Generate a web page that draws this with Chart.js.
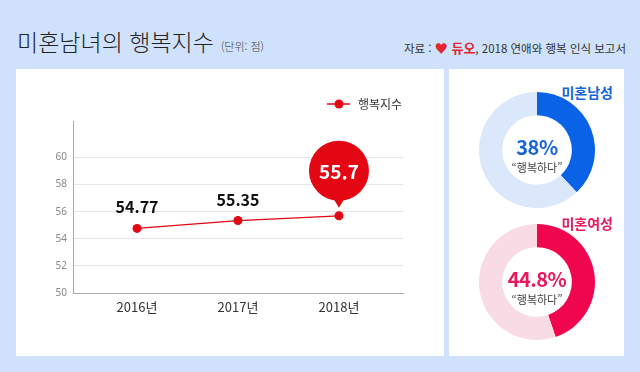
<!DOCTYPE html>
<html lang="ko">
<head>
  <meta charset="UTF-8">
  <title>미혼남녀의 행복지수</title>
  <script src="https://cdn.jsdelivr.net/npm/chart.js"></script>
  <style>
    body {
      margin: 0;
      width: 640px;
      height: 372px;
      background: #cfe1fb;
      font-family: "Noto Sans CJK KR", "Noto Sans", sans-serif;
      position: relative;
      overflow: hidden;
    }

    .title {
      position: absolute;
      left: 17px;
      top: 24px;
      font-size: 23px;
      font-weight: 300;
      color: #222;
      white-space: nowrap;
    }

    .title small {
      font-size: 11px;
      color: #444;
      margin-left: 7px;
    }

    .source {
      position: absolute;
      right: 14px;
      top: 38px;
      font-size: 11.5px;
      color: #333;
      white-space: nowrap;
    }

    .source b {
      color: #e3262d;
      font-size: 13px;
    }

    .panel {
      position: absolute;
      background: white;
    }

    .box {
      position: absolute;
    }

    .donut-title {
      position: absolute;
      right: 27px;
      font-size: 14px;
      font-weight: bold;
      white-space: nowrap;
    }

    .donut-center {
      position: absolute;
      left: 487px;
      width: 100px;
      text-align: center;
    }

    .donut-center .pct {
      font-size: 20px;
      font-weight: bold;
      line-height: 24px;
      letter-spacing: -0.5px;
    }

    .donut-center .sub {
      font-size: 11px;
      color: #444;
      line-height: 16px;
    }
  </style>
</head>

<body>
  <div class="title">미혼남녀의 행복지수<small>(단위: 점)</small></div>
  <div class="source">자료 : <b>♥ 듀오</b>, 2018 연애와 행복 인식 보고서</div>

  <div class="panel" style="left:16px;top:69px;width:428px;height:287px;"></div>
  <div class="panel" style="left:449px;top:69px;width:175px;height:287px;"></div>

  <!-- line chart -->
  <div class="box" style="left:16px;top:69px;width:428px;height:287px;">
    <canvas id="lineChart"></canvas>
  </div>

  <!-- donuts -->
  <div class="donut-title" style="top:82px;color:#1565d8;">미혼남성</div>
  <div class="box" style="left:479px;top:92px;width:116px;height:116px;">
    <canvas id="menChart"></canvas>
  </div>
  <div class="donut-center" style="top:135px;color:#1565d8;">
    <div class="pct">38%</div>
    <div class="sub">“행복하다”</div>
  </div>

  <div class="donut-title" style="top:213px;color:#e8185a;">미혼여성</div>
  <div class="box" style="left:479px;top:224px;width:116px;height:116px;">
    <canvas id="womenChart"></canvas>
  </div>
  <div class="donut-center" style="top:267px;color:#e8185a;">
    <div class="pct">44.8%</div>
    <div class="sub">“행복하다”</div>
  </div>

  <script>
    // Data
    const years = [2016, 2017, 2018];
    const scores = [54.77, 55.35, 55.7];
    const yTicks = [50, 52, 54, 56, 58, 60];
    const seriesName = '행복지수';

    const menHappy = [38, 62];
    const womenHappy = [44.8, 55.2];

    const red = '#e30613';

    // value labels, bubble on the last point, and the legend
    const labelPlugin = {
      id: 'labels',
      afterDatasetsDraw(chart) {
        const ctx = chart.ctx;
        const pts = chart.getDatasetMeta(0).data;
        ctx.save();
        pts.forEach((p, i) => {
          const txt = String(scores[i]);
          ctx.textAlign = 'center';
          ctx.textBaseline = 'middle';
          if (i < pts.length - 1) {
            ctx.fillStyle = '#111';
            ctx.font = 'bold 16px "Noto Sans CJK KR", sans-serif';
            ctx.fillText(txt, p.x, p.y - 21);
          } else {
            const cy = p.y - 45;
            ctx.fillStyle = red;
            ctx.beginPath();
            ctx.arc(p.x, cy, 30, 0, Math.PI * 2);
            ctx.fill();
            ctx.beginPath();
            ctx.moveTo(p.x - 6, cy + 27);
            ctx.lineTo(p.x + 6, cy + 27);
            ctx.lineTo(p.x, p.y - 8);
            ctx.closePath();
            ctx.fill();
            ctx.fillStyle = 'white';
            ctx.font = 'bold 19px "Noto Sans CJK KR", sans-serif';
            ctx.fillText(txt, p.x, cy + 1);
          }
        });

        // legend
        const ly = 35;
        ctx.strokeStyle = red;
        ctx.lineWidth = 1.5;
        ctx.beginPath();
        ctx.moveTo(311, ly);
        ctx.lineTo(334, ly);
        ctx.stroke();
        ctx.fillStyle = red;
        ctx.beginPath();
        ctx.arc(323, ly, 4.5, 0, Math.PI * 2);
        ctx.fill();
        ctx.fillStyle = '#333';
        ctx.font = '12px "Noto Sans CJK KR", sans-serif';
        ctx.textAlign = 'left';
        ctx.textBaseline = 'middle';
        ctx.fillText(seriesName, 342, ly);
        ctx.restore();
      }
    };

    new Chart(document.getElementById('lineChart'), {
      type: 'line',
      data: {
        datasets: [{
          label: seriesName,
          data: years.map((y, i) => ({ x: y, y: scores[i] })),
          borderColor: red,
          backgroundColor: red,
          borderWidth: 1.2,
          pointRadius: 4.5,
          pointBorderWidth: 0,
          pointBackgroundColor: red,
          tension: 0
        }]
      },
      options: {
        responsive: true,
        maintainAspectRatio: false,
        animation: false,
        layout: {
          padding: { left: 40, right: 41, top: 52, bottom: 23 }
        },
        scales: {
          x: {
            type: 'linear',
            min: 2015.366,
            max: 2018.634,
            afterBuildTicks: s => { s.ticks = years.map(v => ({ value: v })); },
            afterFit: s => { s.height = 40; },
            grid: { display: false },
            border: { display: true, color: '#aaa', width: 1 },
            ticks: {
              padding: 0,
              color: '#333',
              font: { size: 13, lineHeight: 1, family: '"Noto Sans CJK KR", sans-serif' },
              callback: v => v + '년'
            }
          },
          y: {
            min: 50,
            max: 62.7,
            afterBuildTicks: s => { s.ticks = yTicks.map(v => ({ value: v })); },
            afterFit: s => { s.width = 17; },
            grid: { color: '#e6e6e6', drawTicks: false },
            border: { display: true, color: '#aaa', width: 1 },
            ticks: {
              padding: 6,
              color: '#888',
              font: { size: 10, family: '"Noto Sans", sans-serif' }
            }
          }
        },
        plugins: {
          legend: { display: false },
          tooltip: { enabled: false }
        }
      },
      plugins: [labelPlugin]
    });

    const donutOptions = {
      responsive: true,
      maintainAspectRatio: false,
      animation: false,
      cutout: '60%',
      plugins: {
        legend: { display: false },
        tooltip: { enabled: false }
      }
    };

    new Chart(document.getElementById('menChart'), {
      type: 'doughnut',
      data: {
        labels: ['행복하다', '기타'],
        datasets: [{
          data: menHappy,
          backgroundColor: ['#0a62e6', '#dbe7fb'],
          borderWidth: 0
        }]
      },
      options: donutOptions
    });

    new Chart(document.getElementById('womenChart'), {
      type: 'doughnut',
      data: {
        labels: ['행복하다', '기타'],
        datasets: [{
          data: womenHappy,
          backgroundColor: ['#f0064f', '#f8dbe5'],
          borderWidth: 0
        }]
      },
      options: donutOptions
    });
  </script>
</body>

</html>
